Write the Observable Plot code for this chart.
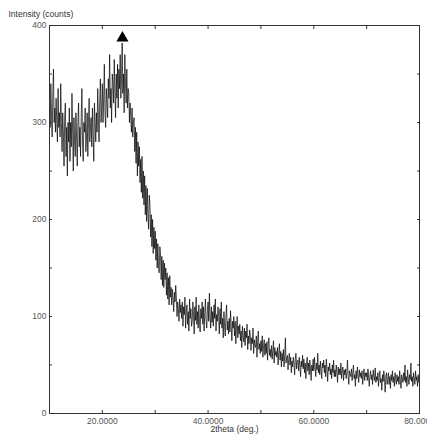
<!DOCTYPE html>
<html>
<head>
<meta charset="utf-8">
<script src="https://cdn.jsdelivr.net/npm/d3@7"></script>
<script src="https://cdn.jsdelivr.net/npm/@observablehq/plot@0.6"></script>
<style>
  html, body { margin: 0; padding: 0; background: #fff; }
  #chart { width: 427px; height: 437px; }
</style>
</head>
<body>
<div id="chart"></div>
<script>
// 2theta from 10 to 80 deg, step 0.125 deg (8 readings per degree)
const thetaStart = 10;
const thetaStep = 0.125;
const intensity = [
  320, 295, 340, 310, 285, 330, 355, 300, // 10
  315, 290, 325, 300, 280, 335, 295, 310, // 11
  285, 340, 300, 270, 310, 290, 255, 305, // 12
  320, 265, 295, 245, 300, 280, 315, 260, // 13
  300, 275, 330, 290, 250, 305, 280, 265, // 14
  310, 285, 255, 300, 320, 275, 295, 265, // 15
  305, 335, 280, 260, 300, 290, 315, 270, // 16
  285, 310, 265, 300, 325, 280, 295, 305, // 17
  275, 315, 290, 260, 320, 300, 280, 310, // 18
  290, 335, 305, 280, 320, 345, 300, 315, // 19
  340, 300, 325, 360, 310, 295, 335, 320, // 20
  305, 345, 325, 370, 315, 335, 300, 350, // 21
  340, 320, 365, 330, 305, 350, 325, 360, // 22
  315, 355, 335, 370, 325, 345, 382, 330, // 23
  350, 310, 370, 340, 320, 355, 315, 335, // 24
  330, 300, 320, 305, 290, 315, 285, 300, // 25
  305, 270, 295, 258, 290, 245, 280, 255, // 26
  275, 238, 262, 228, 265, 222, 250, 215, // 27
  245, 205, 235, 198, 232, 205, 190, 225, // 28
  215, 182, 205, 172, 200, 165, 192, 170, // 29
  188, 158, 180, 150, 175, 152, 145, 172, // 30
  165, 138, 162, 132, 158, 130, 155, 138, // 31
  150, 122, 145, 118, 140, 112, 142, 120, // 32
  130, 112, 128, 118, 105, 125, 115, 132, // 33
  120, 100, 115, 108, 95, 118, 104, 112,  // 34
  98, 115, 90, 110, 102, 120, 88, 105,    // 35
  112, 92, 105, 85, 118, 98, 108, 90,     // 36
  95, 115, 100, 82, 110, 96, 120, 92,     // 37
  105, 88, 112, 95, 84, 108, 98, 115,     // 38
  92, 110, 85, 104, 118, 96, 88, 106,     // 39
  115, 95, 124, 100, 88, 110, 94, 105,    // 40
  90, 112, 98, 118, 85, 102, 95, 110,     // 41
  100, 82, 108, 92, 115, 88, 98, 78,      // 42
  105, 90, 80, 100, 112, 86, 95, 82,      // 43
  98, 84, 106, 90, 75, 95, 88, 100,       // 44
  80, 95, 72, 88, 100, 78, 90, 82,        // 45
  92, 75, 85, 68, 90, 80, 74, 88,         // 46
  70, 85, 78, 92, 66, 80, 72, 86,         // 47
  80, 65, 78, 72, 88, 62, 76, 70,         // 48
  68, 80, 58, 74, 85, 66, 72, 62,         // 49
  75, 64, 80, 58, 70, 76, 60, 72,         // 50
  62, 74, 55, 70, 78, 60, 66, 58,         // 51
  70, 56, 65, 75, 52, 68, 60, 64,         // 52
  58, 68, 50, 62, 72, 55, 64, 48,         // 53
  62, 54, 66, 48, 60, 78, 52, 58,         // 54
  60, 45, 56, 62, 50, 58, 42, 54,         // 55
  48, 58, 52, 40, 56, 62, 46, 54,         // 56
  55, 44, 58, 50, 38, 54, 48, 60,         // 57
  46, 56, 42, 52, 36, 50, 58, 44,         // 58
  52, 40, 55, 46, 34, 50, 44, 56,         // 59
  44, 58, 48, 38, 52, 45, 62, 42,         // 60
  50, 40, 54, 44, 36, 52, 47, 55,         // 61
  42, 50, 38, 56, 45, 33, 48, 44,         // 62
  52, 40, 46, 36, 50, 42, 55, 38,         // 63
  45, 38, 50, 42, 32, 48, 40, 46,         // 64
  40, 52, 36, 44, 48, 34, 45, 40,         // 65
  46, 36, 42, 55, 38, 30, 44, 40,         // 66
  38, 46, 34, 42, 50, 36, 40, 28,         // 67
  44, 36, 48, 40, 32, 45, 38, 42,         // 68
  36, 44, 30, 40, 46, 34, 42, 38,         // 69
  42, 34, 46, 36, 28, 40, 44, 35,         // 70
  40, 30, 45, 38, 34, 47, 32, 38,         // 71
  34, 42, 28, 38, 44, 32, 36, 24,         // 72
  40, 33, 44, 36, 22, 38, 42, 30,         // 73
  36, 42, 30, 38, 26, 40, 34, 44,         // 74
  32, 38, 28, 42, 35, 30, 40, 33,         // 75
  38, 30, 44, 34, 26, 40, 36, 32,         // 76
  42, 34, 50, 32, 38, 28, 45, 36,         // 77
  30, 40, 35, 52, 33, 38, 28, 42,         // 78
  36, 30, 44, 34, 38, 28, 40, 32,         // 79
  34                                      // 80
];
const peakMarker = [{theta: 23.8, counts: 387}];
const xTicks = [20, 30, 40, 50, 60, 70, 80];
const xLabels = [20, 40, 60, 80];
const yTicks = [0, 50, 100, 150, 200, 250, 300, 350, 400];
const yLabels = [0, 100, 200, 300, 400];
const yTitle = "Intensity (counts)";
const xTitle = "2theta (deg.)";

const data = intensity.map((v, i) => ({theta: thetaStart + i * thetaStep, counts: v}));
const textColor = "#555";

const chart = Plot.plot({
  width: 427,
  height: 437,
  marginLeft: 49,
  marginRight: 8,
  marginTop: 25,
  marginBottom: 24,
  style: {fontFamily: "'Liberation Sans', Arial, sans-serif", fontSize: "8.5px", background: "#fff"},
  x: {domain: [10, 80]},
  y: {domain: [0, 400]},
  marks: [
    Plot.line(data, {x: "theta", y: "counts", stroke: "#000", strokeWidth: 0.7}),
    Plot.dot(peakMarker, {x: "theta", y: "counts", symbol: "triangle", r: 4.5, fill: "#000", stroke: "none"}),
    Plot.frame({stroke: "#333", strokeWidth: 1}),
    // inward ticks
    Plot.axisX({anchor: "bottom", ticks: xTicks, tickSize: -3, text: null, label: null, stroke: "#333"}),
    Plot.axisX({anchor: "top", ticks: xTicks, tickSize: -3, text: null, label: null, stroke: "#333"}),
    Plot.axisY({anchor: "left", ticks: yTicks, tickSize: -3, text: null, label: null, stroke: "#333"}),
    Plot.axisY({anchor: "right", ticks: yTicks, tickSize: -3, text: null, label: null, stroke: "#333"}),
    // labels
    Plot.axisX({anchor: "bottom", ticks: xLabels, tickSize: 0, tickPadding: 4, tickFormat: d => d.toFixed(4), label: null, fill: textColor}),
    Plot.axisY({anchor: "left", ticks: yLabels, tickSize: 0, tickPadding: 3, tickFormat: d => String(d), label: null, fill: textColor}),
    Plot.text([yTitle], {frameAnchor: "top-left", dx: -41, dy: -15, text: d => d, fill: "#333", textAnchor: "start"}),
    Plot.text([xTitle], {frameAnchor: "bottom", dy: 18, text: d => d, fill: "#333"})
  ]
});
document.getElementById("chart").appendChild(chart);
</script>
</body>
</html>
